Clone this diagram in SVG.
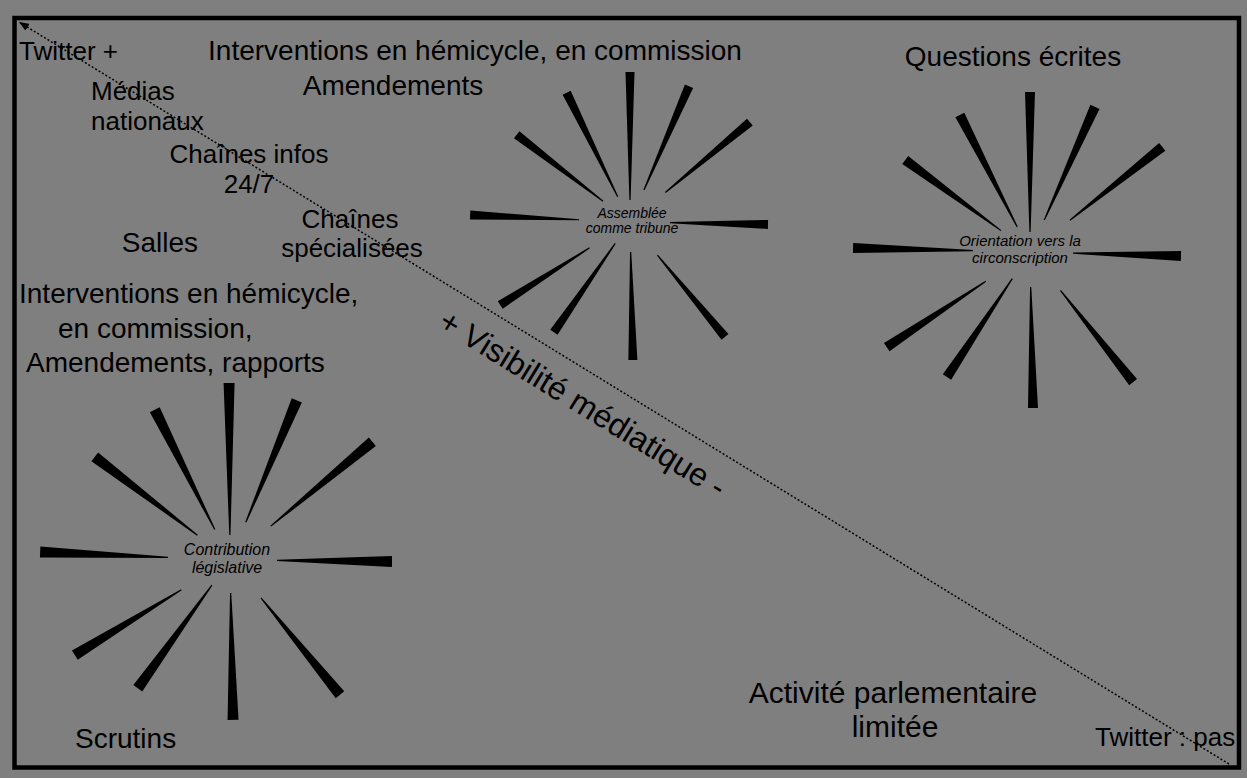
<svg xmlns="http://www.w3.org/2000/svg" width="1247" height="778" viewBox="0 0 1247 778">
<style>
text{font-family:"Liberation Sans",Arial,sans-serif;fill:#000}
.t26{font-size:26px}
.t28{font-size:28px}
.t30{font-size:30px}
.it{font-style:italic;text-anchor:middle}
.m{text-anchor:middle}
.sp{fill:#000}
</style>
<defs>
<marker id="ah" markerUnits="userSpaceOnUse" markerWidth="11" markerHeight="8" refX="10" refY="4" orient="auto">
<path d="M0,0 L10,4 L0,8 z" fill="#000"/>
</marker>
</defs>
<rect x="0" y="0" width="1247" height="778" fill="#7f7f7f"/>
<rect x="14.5" y="18" width="1224.5" height="749.5" fill="none" stroke="#000" stroke-width="4.5"/>

<g id="connectors">
<line x1="1229" y1="764" x2="19" y2="22" stroke="#000" stroke-width="1.5" stroke-dasharray="2 2" marker-end="url(#ah)"/>
</g>

<g id="star-tribune" transform="translate(630,222)">
<polygon class="sp" transform="rotate(-90)" points="22,-0.6 150,-4.5 150,4.5 22,0.6"/>
<polygon class="sp" transform="rotate(-66.5)" points="35,-0.6 148,-4.5 148,4.5 35,0.6"/>
<polygon class="sp" transform="rotate(-39.8)" points="46,-0.6 156,-4.5 156,4.5 46,0.6"/>
<polygon class="sp" transform="rotate(1)" points="40,-0.6 138,-4.5 138,4.5 40,0.6"/>
<polygon class="sp" transform="rotate(50.4)" points="43,-0.6 149,-4.5 149,4.5 43,0.6"/>
<polygon class="sp" transform="rotate(88.8)" points="30,-0.6 138,-4.5 138,4.5 30,0.6"/>
<polygon class="sp" transform="rotate(124.6)" points="26,-0.6 134,-4.5 134,4.5 26,0.6"/>
<polygon class="sp" transform="rotate(147.4)" points="48,-0.6 154,-4.5 154,4.5 48,0.6"/>
<polygon class="sp" transform="rotate(182.5)" points="51,-0.6 160,-4.5 160,4.5 51,0.6"/>
<polygon class="sp" transform="rotate(217.6)" points="34,-0.6 143,-4.5 143,4.5 34,0.6"/>
<polygon class="sp" transform="rotate(243.9)" points="28,-0.6 144,-4.5 144,4.5 28,0.6"/>
<text class="it" x="2" y="-4" font-size="14">Assemblée</text>
<text class="it" x="2" y="11" font-size="14">comme tribune</text>
</g>

<g id="star-circonscription" transform="translate(1030,252)">
<polygon class="sp" transform="rotate(-90)" points="20,-0.6 160,-5 160,5 20,0.6"/>
<polygon class="sp" transform="rotate(-65.9)" points="35,-0.6 159,-5 159,5 35,0.6"/>
<polygon class="sp" transform="rotate(-38.5)" points="51,-0.6 169,-5 169,5 51,0.6"/>
<polygon class="sp" transform="rotate(1.5)" points="43,-0.6 151,-5 151,5 43,0.6"/>
<polygon class="sp" transform="rotate(51.6)" points="49,-0.6 166,-5 166,5 49,0.6"/>
<polygon class="sp" transform="rotate(88.9)" points="35,-0.6 156,-5 156,5 35,0.6"/>
<polygon class="sp" transform="rotate(123.6)" points="32,-0.6 150,-5 150,5 32,0.6"/>
<polygon class="sp" transform="rotate(146.4)" points="53,-0.6 172,-5 172,5 53,0.6"/>
<polygon class="sp" transform="rotate(181.3)" points="57,-0.6 177,-5 177,5 57,0.6"/>
<polygon class="sp" transform="rotate(216.4)" points="36,-0.6 155,-5 155,5 36,0.6"/>
<polygon class="sp" transform="rotate(242.9)" points="28,-0.6 154,-5 154,5 28,0.6"/>
<text class="it" x="-10" y="-6" font-size="15">Orientation vers la</text>
<text class="it" x="-10" y="11" font-size="15">circonscription</text>
</g>

<g id="star-contribution" transform="translate(230,560)">
<polygon class="sp" transform="rotate(-90.3)" points="25,-0.6 177,-5.5 177,5.5 25,0.6"/>
<polygon class="sp" transform="rotate(-67.3)" points="41,-0.6 173,-5.5 173,5.5 41,0.6"/>
<polygon class="sp" transform="rotate(-39.7)" points="53,-0.6 185,-5.5 185,5.5 53,0.6"/>
<polygon class="sp" transform="rotate(0.5)" points="47,-0.6 162,-5.5 162,5.5 47,0.6"/>
<polygon class="sp" transform="rotate(50.8)" points="49,-0.6 174,-5.5 174,5.5 49,0.6"/>
<polygon class="sp" transform="rotate(88.9)" points="33,-0.6 160,-5.5 160,5.5 33,0.6"/>
<polygon class="sp" transform="rotate(125.7)" points="31,-0.6 158,-5.5 158,5.5 31,0.6"/>
<polygon class="sp" transform="rotate(148.5)" points="57,-0.6 182,-5.5 182,5.5 57,0.6"/>
<polygon class="sp" transform="rotate(182.4)" points="62,-0.6 190,-5.5 190,5.5 62,0.6"/>
<polygon class="sp" transform="rotate(217.3)" points="41,-0.6 170,-5.5 170,5.5 41,0.6"/>
<polygon class="sp" transform="rotate(243.4)" points="34,-0.6 168,-5.5 168,5.5 34,0.6"/>
<text class="it" x="-3" y="-5" font-size="16">Contribution</text>
<text class="it" x="-3" y="13" font-size="16">législative</text>
</g>

<g id="labels">
<text class="t26" x="19" y="60">Twitter +</text>
<text class="t28 m" x="475" y="60">Interventions en hémicycle, en commission</text>
<text class="t28 m" x="393" y="95">Amendements</text>
<text class="t28 m" x="1013" y="66">Questions écrites</text>
<text class="t26" x="91" y="100">Médias</text>
<text class="t26" x="91" y="130">nationaux</text>
<text class="t26 m" x="249" y="163">Chaînes infos</text>
<text class="t26 m" x="249" y="193">24/7</text>
<text class="t26 m" x="350" y="228">Chaînes</text>
<text class="t26 m" x="352" y="257">spécialisées</text>
<text class="t28 m" x="160" y="252">Salles</text>
<text class="t28" x="19" y="303">Interventions en hémicycle,</text>
<text class="t28" x="58" y="338">en commission,</text>
<text class="t28" x="26" y="372">Amendements, rapports</text>
<text class="t28" x="75" y="748">Scrutins</text>
<text class="t30 m" x="893" y="703">Activité parlementaire</text>
<text class="t30 m" x="895" y="737">limitée</text>
<text class="t26" x="1095" y="746">Twitter : pas</text>
<text class="m" font-size="32" transform="translate(577,413) rotate(31.4)">+ Visibilité médiatique -</text>
</g>
</svg>
